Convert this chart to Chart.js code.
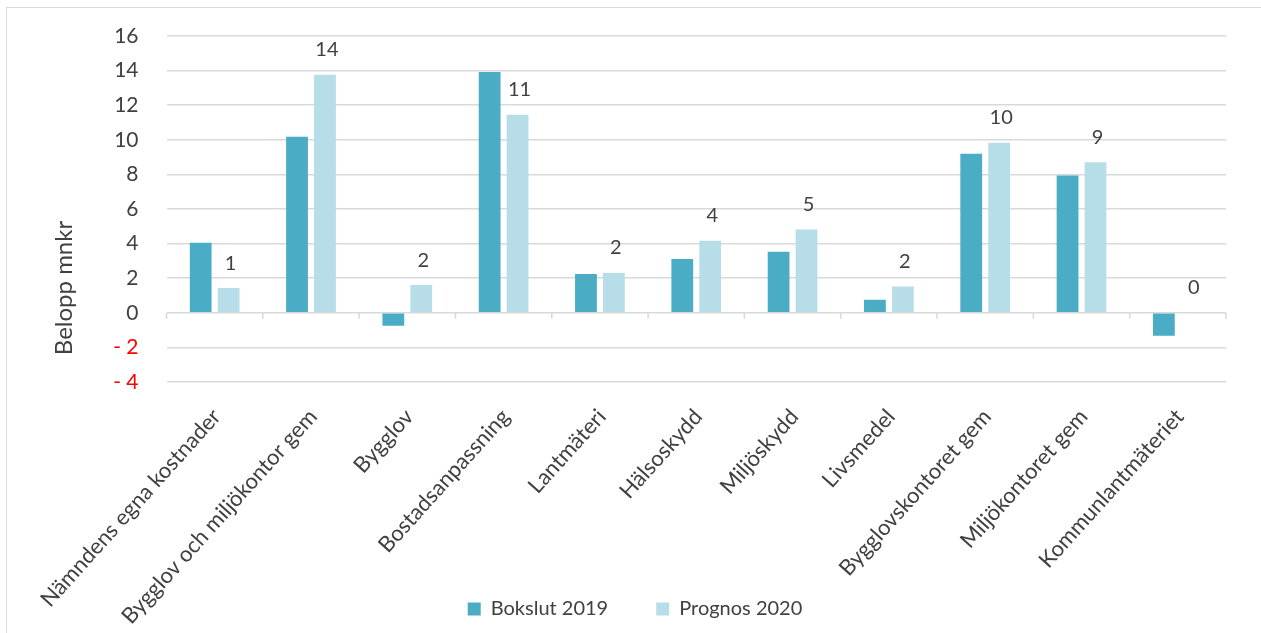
<!DOCTYPE html>
<html>
<head>
<meta charset="utf-8">
<script src="https://cdn.jsdelivr.net/npm/chart.js@4"></script>
<style>
  html, body { margin: 0; padding: 0; background: #ffffff; overflow: hidden; }
  #wrap { position: relative; width: 1261px; height: 633px; }
  #frame { position: absolute; left: 6px; top: 7px; width: 1400px; height: 800px;
           border: 1.5px solid #d9d9d9; box-sizing: border-box; }
  #chart { position: absolute; left: 0; top: 0; }
</style>
</head>
<body>
<div id="wrap">
  <div id="frame"></div>
  <canvas id="chart" width="1261" height="633"></canvas>
</div>
<script>
// Verksamheter (kategorier)
const categories = [
  'Nämndens egna kostnader',
  'Bygglov och miljökontor gem',
  'Bygglov',
  'Bostadsanpassning',
  'Lantmäteri',
  'Hälsoskydd',
  'Miljöskydd',
  'Livsmedel',
  'Bygglovskontoret gem',
  'Miljökontoret gem',
  'Kommunlantmäteriet'
];

// Belopp i mnkr
const bokslut2019 = [4.05, 10.17, -0.75, 13.92, 2.24, 3.11, 3.53, 0.75, 9.2, 7.93, -1.33];
const prognos2020 = [1.43, 13.76, 1.6, 11.45, 2.3, 4.17, 4.82, 1.52, 9.83, 8.7, 0];

const seriesNames = ['Bokslut 2019', 'Prognos 2020'];
const yTicks = { min: -4, max: 16, step: 2 };
const yTitle = 'Belopp mnkr';

const TEXT = '#404040';
const GRID = '#d9d9d9';
const FONT = 'Lato';

// Värdeetiketter ovanför prognosstaplarna
const valueLabels = {
  id: 'valueLabels',
  afterDatasetsDraw(chart) {
    const meta = chart.getDatasetMeta(1);
    const data = chart.data.datasets[1].data;
    const ctx = chart.ctx;
    ctx.save();
    ctx.font = '20px ' + FONT;
    ctx.fillStyle = TEXT;
    ctx.textAlign = 'center';
    ctx.textBaseline = 'middle';
    meta.data.forEach((bar, i) => {
      const top = Math.min(bar.y, bar.base);
      ctx.fillText(String(Math.round(data[i])), bar.x + 2, top - 25);
    });
    ctx.restore();
  }
};

// Skalstreck på nollinjen, y-axelns rubrik och kategorietiketter som får gå ner mot förklaringen
const axisExtras = {
  id: 'axisExtras',
  afterLayout(chart) {
    const x = chart.scales.x;
    x.bottom = chart.height;
    x.height = x.bottom - x.top;
  },
  beforeDatasetsDraw(chart) {
    const x = chart.scales.x, y = chart.scales.y;
    const ctx = chart.ctx;
    const y0 = y.getPixelForValue(0);
    const n = chart.data.labels.length;
    ctx.save();
    ctx.strokeStyle = GRID;
    ctx.lineWidth = 1.5;
    ctx.beginPath();
    for (let i = 0; i <= n; i++) {
      const px = x.left + i * (x.width / n);
      ctx.moveTo(px, y0);
      ctx.lineTo(px, y0 + 6);
    }
    ctx.stroke();
    ctx.restore();
  },
  afterDraw(chart) {
    const ctx = chart.ctx;
    ctx.save();
    ctx.translate(64, 288);
    ctx.rotate(-Math.PI / 2);
    ctx.font = '24px ' + FONT;
    ctx.fillStyle = TEXT;
    ctx.textAlign = 'center';
    ctx.textBaseline = 'middle';
    ctx.fillText(yTitle, 0, 0);
    ctx.restore();
  }
};

function draw() {
  Chart.defaults.font.family = FONT;
  new Chart(document.getElementById('chart'), {
    type: 'bar',
    data: {
      labels: categories,
      datasets: [
        { label: seriesNames[0], data: bokslut2019, backgroundColor: '#4bacc6' },
        { label: seriesNames[1], data: prognos2020, backgroundColor: '#b7dde8' }
      ]
    },
    options: {
      responsive: false,
      animation: false,
      devicePixelRatio: 1,
      categoryPercentage: 0.58,
      barPercentage: 0.78,
      layout: { padding: { top: 36, right: 35, left: 44, bottom: 4 } },
      plugins: {
        legend: {
          position: 'bottom',
          labels: {
            boxWidth: 13, boxHeight: 13, padding: 48,
            color: TEXT, font: { size: 20, family: FONT }
          }
        },
        tooltip: { enabled: false },
        title: { display: false }
      },
      scales: {
        x: {
          grid: { display: false, drawTicks: false },
          border: { display: false },
          ticks: {
            autoSkip: false, minRotation: 48, maxRotation: 48,
            padding: 22, labelOffset: 2,
            color: TEXT, font: { size: 22, family: FONT }
          },
          afterFit(scale) {
            scale.height = 169;
            scale.paddingLeft = 0;
            scale.paddingRight = 0;
          }
        },
        y: {
          min: yTicks.min, max: yTicks.max,
          grid: { color: GRID, lineWidth: 1.5, drawTicks: false },
          border: { display: false },
          ticks: {
            stepSize: yTicks.step, padding: 28,
            font: { size: 21, family: FONT },
            color: (c) => (c.tick && c.tick.value < 0 ? '#ff0000' : TEXT),
            callback: (v) => (v < 0 ? '- ' + Math.abs(v) : String(v))
          },
          afterFit(scale) {
            scale.width = 122.5;
            scale.paddingTop = 0;
            scale.paddingBottom = 0;
          }
        }
      }
    },
    plugins: [axisExtras, valueLabels]
  });
}

if (document.fonts && document.fonts.load) {
  Promise.all([document.fonts.load('20px Lato'), document.fonts.load('24px Lato')])
    .then(draw, draw);
} else {
  draw();
}
</script>
</body>
</html>
